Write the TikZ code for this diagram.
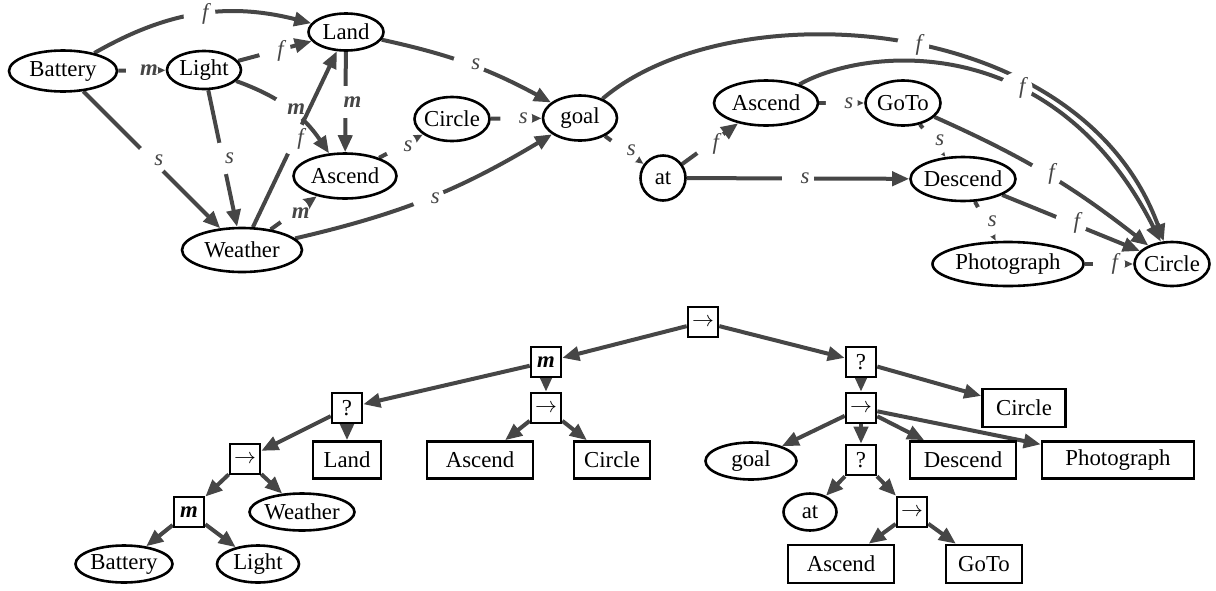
\documentclass[tikz,border=0pt]{standalone}
\usepackage{amsmath}
\usepackage{fontspec}
\setmainfont{Liberation Serif}
\usetikzlibrary{arrows.meta,shapes.geometric}
\definecolor{edgec}{RGB}{70,70,70}
\pgfdeclarelayer{background}
\pgfsetlayers{background,main}
\newcommand\lbl[1]{\makebox[0pt]{\hspace{7pt}#1}}
\newcommand\mb[1]{\makebox[0pt]{#1}}
\newcommand\bm{\textbf{\textit{m}}}
\begin{document}
\begin{tikzpicture}[x=0.5pt,y=0.5pt,
  every node/.style={font=\fontsize{11.4}{13}\selectfont},
  ell/.style={ellipse,draw=black,line width=1.3pt,inner sep=0pt,fill=white},
  boxn/.style={rectangle,draw=black,line width=1.3pt,inner sep=0pt,fill=white,minimum height=18.5pt},
  op/.style={boxn,minimum width=15pt,minimum height=15pt},
  con/.style={draw=edgec,line width=2pt,-{Triangle[length=8.5pt,width=7pt]}},
  lab/.style={circle,fill=white,inner sep=0pt,minimum size=16pt,text=edgec},
]
\useasboundingbox (0,0) rectangle (1216,-590);
% ---------- top graph nodes
\node[ell,minimum width=54pt,minimum height=20.5pt] (Bat) at (63,-71) {\mb{Battery}};
\node[ell,minimum width=37pt,minimum height=19pt] (Lig) at (204,-70) {\mb{Light}};
\node[ell,minimum width=37.5pt,minimum height=18.5pt] (Lan) at (346,-32) {\mb{Land}};
\node[ell,minimum width=51.5pt,minimum height=22.5pt] (AsL) at (345,-176) {\mb{Ascend}};
\node[ell,minimum width=60pt,minimum height=22pt] (Wea) at (242,-250) {\mb{Weather}};
\node[ell,minimum width=37.5pt,minimum height=22pt] (CiM) at (452,-119) {\mb{Circle}};
\node[ell,minimum width=37pt,minimum height=22.5pt] (goa) at (580,-118) {\mb{goal}};
\node[ell,minimum width=22.5pt,minimum height=22.5pt] (atT) at (663,-178) {\mb{at}};
\node[ell,minimum width=52pt,minimum height=22.5pt] (AsR) at (766,-103) {\mb{Ascend}};
\node[ell,minimum width=37.5pt,minimum height=22.5pt] (GoT) at (903,-103) {\mb{GoTo}};
\node[ell,minimum width=52.5pt,minimum height=22pt] (Des) at (963,-179) {\mb{Descend}};
\node[ell,minimum width=75.5pt,minimum height=22pt] (Pho) at (1008,-264) {\mb{Photograph}};
\node[ell,minimum width=37.5pt,minimum height=22pt] (CiR) at (1172,-264) {\mb{Circle}};
% ---------- tree nodes
\node[op] (t0) at (703,-322) {$\rightarrow$};
\node[op] (t1) at (546,-362) {\bm};
\node[op] (t2) at (347,-408) {?};
\node[op] (t3) at (546,-408) {$\rightarrow$};
\node[op] (t4) at (245,-459) {$\rightarrow$};
\node[boxn,minimum width=34pt] (t5) at (347,-460) {Land};
\node[boxn,minimum width=53pt] (t6) at (480,-460) {Ascend};
\node[boxn,minimum width=38pt] (t7) at (612,-460) {Circle};
\node[op] (t8) at (189,-512) {\bm};
\node[ell,minimum width=52.5pt,minimum height=18.5pt] (t9) at (302,-512) {\mb{Weather}};
\node[ell,minimum width=48.5pt,minimum height=18.5pt] (t10) at (124,-564) {\mb{Battery}};
\node[ell,minimum width=41pt,minimum height=18.5pt] (t11) at (258,-564) {\mb{Light}};
\node[op] (u1) at (861,-362) {?};
\node[boxn,minimum width=41.5pt,minimum height=19pt] (u2) at (1024,-408) {Circle};
\node[op] (u3) at (861,-408) {$\rightarrow$};
\node[ell,minimum width=45.5pt,minimum height=18.5pt] (u4) at (751,-461) {\mb{goal}};
\node[op] (u5) at (861,-460) {?};
\node[boxn,minimum width=53pt] (u6) at (963,-460) {Descend};
\node[boxn,minimum width=76pt] (u7) at (1118,-460) {Photograph};
\node[ell,minimum width=26.5pt,minimum height=18.5pt] (u8) at (810,-512) {\mb{at}};
\node[op] (u9) at (912,-512) {$\rightarrow$};
\node[boxn,minimum width=53pt,minimum height=19pt] (u10) at (841,-564) {Ascend};
\node[boxn,minimum width=38pt,minimum height=19pt] (u11) at (984,-564) {GoTo};
\begin{pgfonlayer}{background}
% ---------- top graph edges
\draw[con] (Bat) to[bend left=22] node[lab]{\lbl{\textit{f}}} (Lan);
\draw[con] (Bat) -- node[lab]{\lbl{\bm}} (Lig);
\draw[con] (Bat) -- node[lab]{\lbl{\textit{s}}} (Wea);
\draw[con] (Lig) -- node[lab]{\lbl{\textit{s}}} (Wea);
\draw[con] (Lig) -- node[lab]{\lbl{\textit{f}}} (Lan);
\draw[con] (Wea) -- node[lab]{\lbl{\textit{f}}} (Lan);
\draw[con] (Lig) to[bend left=18] node[lab]{\lbl{\bm}} (AsL);
\draw[con] (Lan) -- node[lab]{\lbl{\bm}} (AsL);
\draw[con] (Lan) to[bend left=8] node[lab]{\lbl{\textit{s}}} (goa);
\draw[con] (AsL) -- node[lab]{\lbl{\textit{s}}} (CiM);
\draw[con] (Wea) -- node[lab]{\lbl{\bm}} (AsL);
\draw[con] (CiM) -- node[lab]{\lbl{\textit{s}}} (goa);
\draw[con] (Wea) to[bend right=9] node[lab]{\lbl{\textit{s}}} (goa);
\draw[con] (goa) -- node[lab]{\lbl{\textit{s}}} (atT);
\draw[con] (atT) -- node[lab]{\lbl{\textit{f}}} (AsR);
\draw[con] (atT) -- node[lab]{\lbl{\textit{s}}} (Des);
\draw[con] (AsR) -- node[lab]{\lbl{\textit{s}}} (GoT);
\draw[con] (GoT) -- node[lab]{\lbl{\textit{s}}} (Des);
\draw[con] (Des) -- node[lab]{\lbl{\textit{s}}} (Pho);
\draw[con] (Pho) -- node[lab]{\lbl{\textit{f}}} (CiR);
\draw[con] (Des) -- node[lab]{\lbl{\textit{f}}} (CiR);
\draw[con] (GoT) to[bend left=7] node[lab]{\lbl{\textit{f}}} (CiR);
\draw[con] (goa) .. controls (730,10) and (1080,-10) .. node[lab,pos=.52]{\lbl{\textit{f}}} (CiR);
\draw[con] (AsR) .. controls (870,-45) and (1055,-32) .. node[lab,pos=.62]{\lbl{\textit{f}}} (CiR);
% ---------- tree edges
\draw[con] (t0) -- (t1);
\draw[con] (t0) -- (u1);
\draw[con] (t1) -- (t2);
\draw[con] (t1) -- (t3);
\draw[con] (t3) -- (t6);
\draw[con] (t3) -- (t7);
\draw[con] (t2) -- (t4);
\draw[con] (t2) -- (t5);
\draw[con] (t4) -- (t8);
\draw[con] (t4) -- (t9);
\draw[con] (t8) -- (t10);
\draw[con] (t8) -- (t11);
\draw[con] (u1) -- (u3);
\draw[con] (u1) -- (u2);
\draw[con] (u3) -- (u4);
\draw[con] (u3) -- (u5);
\draw[con] (u3) -- (u6);
\draw[con] (u3) -- (u7);
\draw[con] (u5) -- (u8);
\draw[con] (u5) -- (u9);
\draw[con] (u9) -- (u10);
\draw[con] (u9) -- (u11);
\end{pgfonlayer}
\end{tikzpicture}
\end{document}
